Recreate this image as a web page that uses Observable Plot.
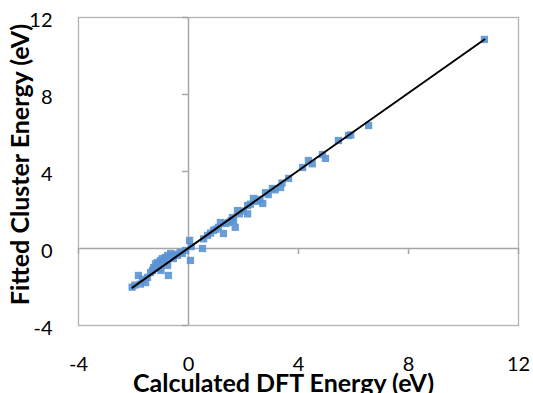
<!DOCTYPE html>
<html>
<head>
<meta charset="utf-8">
<script src="https://cdn.jsdelivr.net/npm/d3@7"></script>
<script src="https://cdn.jsdelivr.net/npm/@observablehq/plot@0.6"></script>
<style>
  html, body { margin: 0; padding: 0; background: #fff; }
  #chart svg { display: block; }
</style>
</head>
<body>
<div id="chart"></div>
<script>
const calcDFT = [-2.05,-1.95,-1.82,-1.75,-1.67,-1.56,-1.49,-1.38,-1.31,-1.27,-1.20,-1.13,-1.09,-1.02,-1.00,-0.95,-0.88,-0.84,-0.76,-0.76,-0.73,-0.65,-0.58,-0.55,-0.45,-0.40,-0.30,-0.22,-0.11,0.04,0.07,0.10,0.51,0.55,0.69,0.80,0.91,1.00,1.09,1.16,1.27,1.35,1.45,1.55,1.60,1.64,1.70,1.78,1.85,2.00,2.15,2.15,2.25,2.36,2.50,2.60,2.70,2.80,2.90,3.05,3.15,3.35,3.40,3.64,4.15,4.36,4.50,4.87,4.98,5.45,5.82,5.90,6.55,10.76];
const fitted  = [-2.01,-1.90,-1.40,-1.85,-1.60,-1.77,-1.50,-1.25,-1.14,-0.99,-0.80,-0.73,-1.04,-0.62,-1.14,-0.52,-0.70,-0.47,-0.88,-0.36,-1.40,-0.26,-0.40,-0.52,-0.30,-0.36,-0.20,-0.26,-0.10,0.42,-0.62,0.10,0.00,0.50,0.68,0.80,0.94,1.00,1.10,1.35,0.78,1.30,1.35,1.45,1.61,1.45,1.10,1.97,1.80,1.95,2.23,1.80,2.30,2.60,2.45,2.55,2.34,2.90,2.80,3.12,3.05,3.17,3.40,3.64,4.21,4.57,4.40,4.88,4.68,5.61,5.87,5.90,6.39,10.86];
const trendX = [-2.04, 10.76];
const trendY = [-2.03, 10.86];
const xTicks = [-4, 0, 4, 8, 12];
const yTicks = [-4, 0, 4, 8, 12];
const xTitle = "Calculated DFT Energy (eV)";
const yTitle = "Fitted Cluster Energy (eV)";

const points = calcDFT.map((x, i) => ({x, y: fitted[i]}));
const trend = trendX.map((x, i) => ({x, y: trendY[i]}));

const font = "Lato, 'Open Sans', sans-serif";
const fmt = d => String(d);

const chart = Plot.plot({
  width: 533,
  height: 393,
  marginLeft: 78,
  marginRight: 15,
  marginTop: 17,
  marginBottom: 68,
  style: {fontFamily: font, fontSize: "20px", color: "#000", background: "#fff"},
  x: {domain: [-4, 12]},
  y: {domain: [-4, 12]},
  marks: [
    Plot.frame({stroke: "#b3b3b3", strokeWidth: 1.3}),
    Plot.ruleY([0], {stroke: "#a6a6a6", strokeWidth: 1.5}),
    Plot.ruleX([0], {stroke: "#a6a6a6", strokeWidth: 1.5}),
    Plot.ruleY(yTicks, {y: d => d, x1: 0, x2: 0, insetLeft: -6, stroke: "#a6a6a6", strokeWidth: 1.5}),
    Plot.ruleX(xTicks, {x: d => d, y1: 0, y2: 0, insetBottom: -6, stroke: "#a6a6a6", strokeWidth: 1.5}),
    Plot.axisX({ticks: xTicks, tickFormat: fmt, tickSize: 0, tickPadding: 31, label: null, fontSize: 20}),
    Plot.axisY({ticks: yTicks, tickFormat: fmt, tickSize: 0, tickPadding: 26, label: null, fontSize: 20, dy: 3}),
    Plot.dot(points, {x: "x", y: "y", symbol: "square", r: 4.1, fill: "#5b93d3", fillOpacity: 0.9, stroke: "none"}),
    Plot.line(trend, {x: "x", y: "y", stroke: "#000", strokeWidth: 2}),
    Plot.text([xTitle], {text: d => d, frameAnchor: "bottom", textAnchor: "middle", lineAnchor: "bottom", dx: -15, dy: 66, fontSize: 25, fontWeight: "bold", fill: "#000"}),
    Plot.text([yTitle], {text: d => d, frameAnchor: "left", textAnchor: "middle", lineAnchor: "middle", rotate: -90, dx: -58, dy: -7, fontSize: 25, fontWeight: "bold", fill: "#000"})
  ]
});
document.getElementById("chart").appendChild(chart);
</script>
</body>
</html>
